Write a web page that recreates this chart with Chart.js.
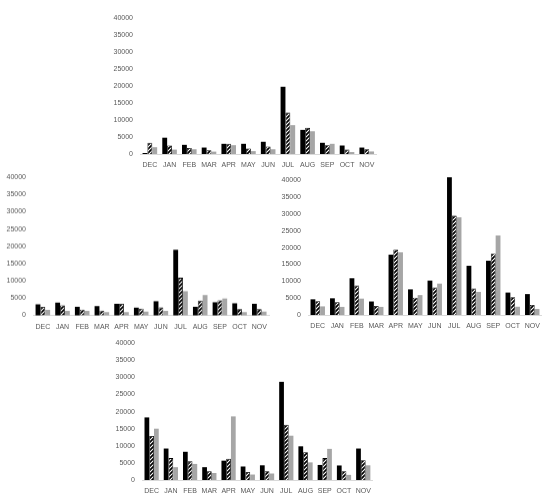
<!DOCTYPE html>
<html>
<head>
<meta charset="utf-8">
<script src="https://cdn.jsdelivr.net/npm/chart.js@4.4.1/dist/chart.umd.min.js"></script>
<style>
  html, body { margin: 0; padding: 0; background: #fff; }
  body { width: 550px; height: 498px; position: relative; overflow: hidden; }
  .panel { position: absolute; }
</style>
</head>
<body>
<div class="panel" id="p0"><canvas id="c0"></canvas></div>
<div class="panel" id="p1"><canvas id="c1"></canvas></div>
<div class="panel" id="p2"><canvas id="c2"></canvas></div>
<div class="panel" id="p3"><canvas id="c3"></canvas></div>
<script>
const MONTHS = ["DEC", "JAN", "FEB", "MAR", "APR", "MAY", "JUN", "JUL", "AUG", "SEP", "OCT", "NOV"];
const Y_TICKS = [0, 5000, 10000, 15000, 20000, 25000, 30000, 35000, 40000];

// top panel
const topBlack = [300, 4800, 2700, 1900, 3000, 3000, 3600, 19800, 7100, 3300, 2500, 1900];
const topHatch = [3300, 2500, 1800, 1100, 3000, 1600, 2200, 12200, 7700, 2600, 1300, 1400];
const topGray = [2000, 1300, 1400, 700, 2600, 850, 1400, 8500, 6700, 3000, 570, 750];

// middle left
const leftBlack = [3200, 3700, 2500, 2700, 3350, 2250, 4100, 19000, 2500, 3800, 3500, 3350];
const leftHatch = [2500, 2900, 1700, 1400, 3350, 1950, 2300, 10900, 4300, 4400, 1800, 1850];
const leftGray = [1600, 1300, 1300, 950, 950, 1100, 1300, 7000, 5900, 4900, 950, 1100];

// middle right
const rightBlack = [4650, 4950, 10900, 4000, 17900, 7600, 10200, 40900, 14600, 16100, 6650, 6200];
const rightHatch = [4100, 3800, 8750, 2650, 19400, 5150, 8150, 29500, 7900, 18250, 5250, 2950];
const rightGray = [2550, 2400, 4850, 2400, 18600, 5900, 9300, 29000, 6850, 23600, 2450, 1800];

// bottom
const botBlack = [18300, 9200, 8250, 3750, 5650, 3950, 4300, 28700, 9850, 4400, 4250, 9200];
const botHatch = [12850, 6400, 5450, 2550, 6200, 2350, 2550, 16150, 8100, 6400, 2550, 5800];
const botGray = [15000, 3750, 4700, 2050, 18600, 1600, 1900, 12950, 5150, 9100, 1500, 4300];

const TEXT = "#595959";
const GRAY = "#a6a6a6";

function hatchPattern() {
  const c = document.createElement("canvas");
  c.width = 4;
  c.height = 4;
  const g = c.getContext("2d");
  g.fillStyle = "#000";
  g.fillRect(0, 0, 4, 4);
  g.strokeStyle = "#fff";
  g.lineWidth = 1.1;
  g.beginPath();
  g.moveTo(0, 4); g.lineTo(4, 0);
  g.moveTo(-1, 1); g.lineTo(1, -1);
  g.moveTo(3, 5); g.lineTo(5, 3);
  g.stroke();
  return g.createPattern(c, "repeat");
}

const HATCH = hatchPattern();
const Y_W = 32, PAD_T = 6, PAD_R = 4, X_H = 22;

function makePanel(idx, box, black, hatch, gray) {
  const w = box.right - box.left, h = box.bottom - box.top;
  const div = document.getElementById("p" + idx);
  div.style.left = (box.left - Y_W) + "px";
  div.style.top = (box.top - PAD_T) + "px";
  div.style.width = (Y_W + w + PAD_R) + "px";
  div.style.height = (PAD_T + h + X_H) + "px";

  new Chart(document.getElementById("c" + idx), {
    type: "bar",
    data: {
      labels: MONTHS,
      datasets: [
        { data: black, backgroundColor: "#000", clip: false },
        { data: hatch, backgroundColor: HATCH, borderColor: "#000", borderWidth: 0.8, clip: false },
        { data: gray, backgroundColor: GRAY, clip: false },
      ],
    },
    options: {
      responsive: true,
      maintainAspectRatio: false,
      animation: false,
      layout: { padding: { top: PAD_T, right: PAD_R, left: 0, bottom: 0 } },
      datasets: { bar: { categoryPercentage: 0.74, barPercentage: 1.0 } },
      plugins: { legend: { display: false }, tooltip: { enabled: false } },
      scales: {
        x: {
          grid: { display: false, drawTicks: false },
          border: { display: true, color: "#d9d9d9", width: 1 },
          ticks: { color: TEXT, font: { family: "Liberation Sans", size: 7 }, padding: 7, maxRotation: 0, autoSkip: false },
          afterFit: (s) => { s.height = X_H; },
        },
        y: {
          min: 0,
          max: 40000,
          grid: { display: false, drawTicks: false },
          border: { display: false },
          afterBuildTicks: (s) => { s.ticks = Y_TICKS.map((v) => ({ value: v })); },
          ticks: { color: TEXT, font: { family: "Liberation Sans", size: 7 }, padding: 7, callback: (v) => String(v) },
          afterFit: (s) => { s.width = Y_W; },
        },
      },
    },
  });
}

makePanel(0, { left: 139.5, right: 377, top: 13, bottom: 154 }, topBlack, topHatch, topGray);
makePanel(1, { left: 33, right: 270, top: 172, bottom: 314.5 }, leftBlack, leftHatch, leftGray);
makePanel(2, { left: 308, right: 543, top: 174.5, bottom: 314.5 }, rightBlack, rightHatch, rightGray);
makePanel(3, { left: 142, right: 374, top: 337.5, bottom: 479.5 }, botBlack, botHatch, botGray);
</script>
</body>
</html>
